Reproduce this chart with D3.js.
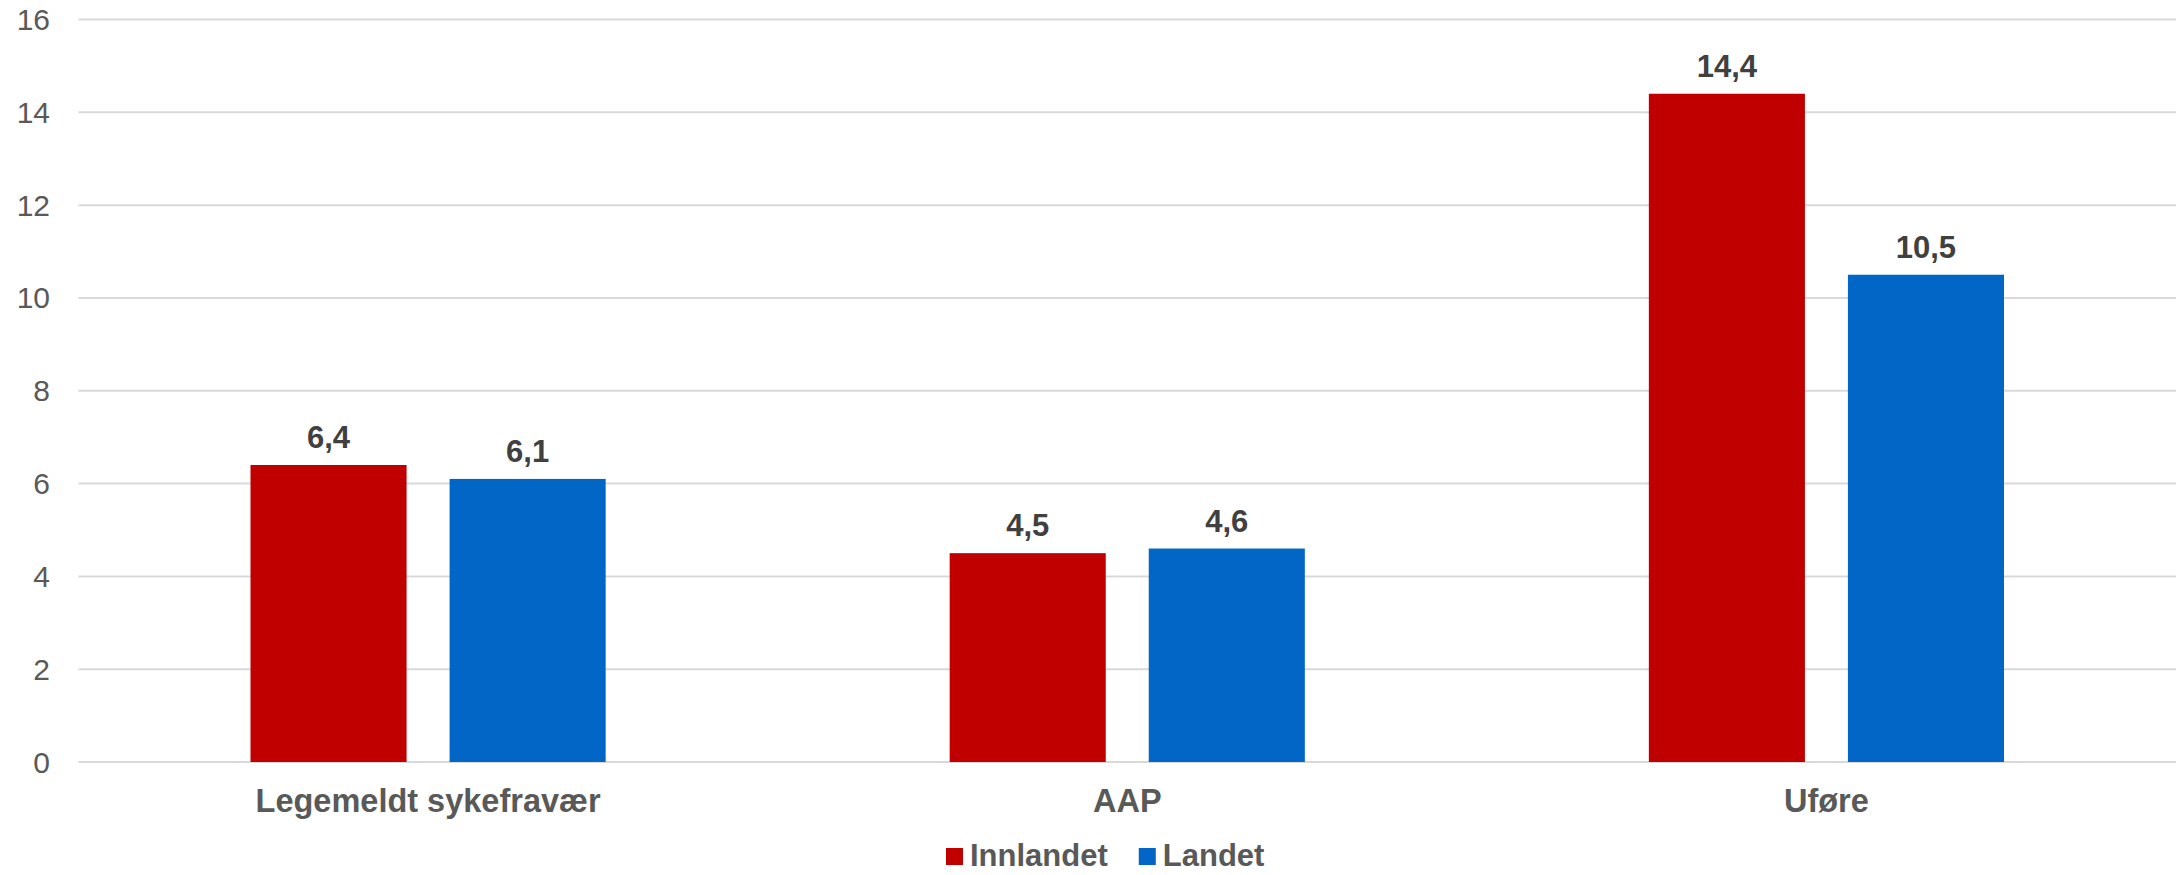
<!DOCTYPE html>
<html>
<head>
<meta charset="utf-8">
<script src="https://cdn.jsdelivr.net/npm/d3@7"></script>
<style>
  html, body { margin: 0; padding: 0; background: #fff; }
  svg { display: block; font-family: "Liberation Sans", Arial, sans-serif; }
</style>
</head>
<body>
<svg id="chart" width="2183" height="875"></svg>
<script>
const categories = ['Legemeldt sykefravær', 'AAP', 'Uføre']
const series = ['Innlandet', 'Landet']
const innlandet = [6.4, 4.5, 14.4]
const landet = [6.1, 4.6, 10.5]
const yTicks = [0, 2, 4, 6, 8, 10, 12, 14, 16]
const colors = ['#c00000', '#0266c6']

const values = [innlandet, landet]

const svg = d3.select('#chart')

const x0 = d3.scaleBand()
.domain(categories)
.range([78.5, 2176])

const x1 = d3.scaleBand()
.domain(series)
.range([0, x0.bandwidth()])
.paddingInner(0.216)
.paddingOuter(0.864)

const y = d3.scaleLinear()
.domain([0, 16])
.range([762, 19.5])

// gridlines
svg.append('g')
.selectAll('line')
.data(yTicks)
.enter()
.append('line')
.attr('x1', x0.range()[0])
.attr('x2', x0.range()[1])
.attr('y1', d => y(d))
.attr('y2', d => y(d))
.style('stroke', '#d9d9d9')
.style('stroke-width', 2)

// y axis labels
svg.append('g')
.selectAll('text')
.data(yTicks)
.enter()
.append('text')
.attr('x', 50)
.attr('y', d => y(d))
.attr('dy', '0.35em')
.attr('text-anchor', 'end')
.style('font-size', '30px')
.style('fill', '#595959')
.text(d => d)

// bars
const groups = svg.append('g')
.selectAll('g')
.data(categories)
.enter()
.append('g')
.attr('transform', d => `translate(${x0(d)},0)`)

const rows = (d, i) => series.map((s, j) => ({ s, v: values[j][i], j }))

groups.selectAll('rect')
.data(rows)
.enter()
.append('rect')
.attr('x', d => x1(d.s))
.attr('width', x1.bandwidth())
.attr('y', d => y(d.v))
.attr('height', d => y(0) - y(d.v))
.style('fill', d => colors[d.j])

groups.selectAll('text.val')
.data(rows)
.enter()
.append('text')
.attr('class', 'val')
.attr('x', d => x1(d.s) + x1.bandwidth() / 2)
.attr('y', d => y(d.v) - 17)
.attr('text-anchor', 'middle')
.style('font-size', '31px')
.style('font-weight', 'bold')
.style('fill', '#404040')
.text(d => d3.format('.1f')(d.v).replace('.', ','))

// category labels
svg.append('g')
.selectAll('text')
.data(categories)
.enter()
.append('text')
.attr('x', d => x0(d) + x0.bandwidth() / 2)
.attr('y', 812)
.attr('text-anchor', 'middle')
.style('font-size', '32.5px')
.style('font-weight', 'bold')
.style('fill', '#595959')
.text(d => d)

// legend (sits close to the bottom edge, as in the source)
const legend = svg.append('g').attr('transform', 'translate(946,866)')
let lx = 0
series.forEach((s, i) => {
  const item = legend.append('g').attr('transform', `translate(${lx},0)`)
  item.append('rect')
  .attr('x', 0)
  .attr('y', -18)
  .attr('width', 17)
  .attr('height', 17)
  .style('fill', colors[i])
  const t = item.append('text')
  .attr('x', 24)
  .attr('y', 0)
  .style('font-size', '31px')
  .style('font-weight', 'bold')
  .style('fill', '#595959')
  .text(s)
  lx += 24 + t.node().getComputedTextLength() + 31
})
</script>
</body>
</html>
